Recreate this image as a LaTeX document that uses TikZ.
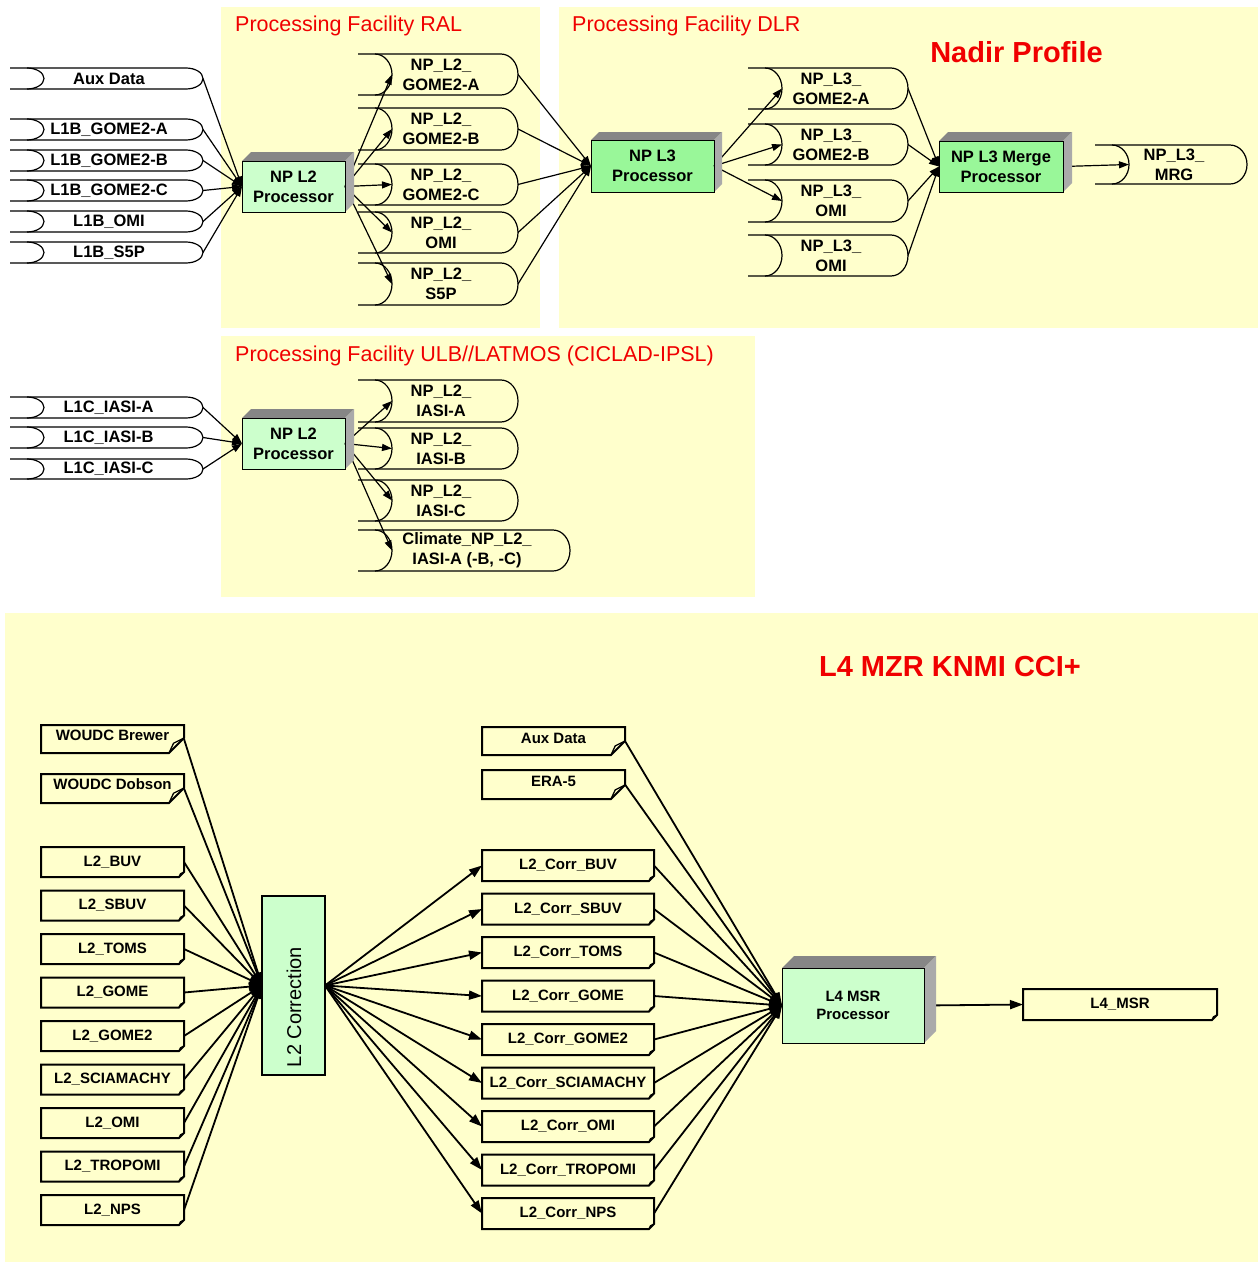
\documentclass[tikz,border=0pt]{standalone}
\usepackage{fontspec}
\setmainfont{Liberation Sans}
\usetikzlibrary{arrows.meta}

\definecolor{regionyellow}{HTML}{FFFFCC}
\definecolor{procpale}{HTML}{CCFFCC}
\definecolor{procbright}{HTML}{99F799}
\definecolor{facegray}{HTML}{868686}
\definecolor{sidegray}{HTML}{AAAAAA}
\definecolor{titlered}{HTML}{F00000}

\newcommand\fsTop{\fontsize{16.5}{20}\selectfont\bfseries}
\newcommand\fsLow{\fontsize{15}{18}\selectfont\bfseries}
\newcommand\fsTitle{\fontsize{21.5}{24}\selectfont}
\newcommand\fsHead{\fontsize{29}{32}\selectfont\bfseries}

\tikzset{
  region/.style={fill=regionyellow},
  titletext/.style={text=titlered, font=\fsTitle, inner sep=0pt, anchor=west},
  headtext/.style={text=titlered, font=\fsHead, inner sep=0pt},
  store/.style={line width=1.2pt, line join=round},
  storetext/.style={font=\fsTop, align=center, inner sep=0pt},
  proc/.style={draw=black, line width=0.8pt, inner sep=0pt, outer sep=0pt, align=center},
  conn/.style={line width=1.2pt, -{Triangle[length=10pt,width=7pt]}},
  connlow/.style={line width=1.8pt, -{Triangle[length=13pt,width=9pt]}},
  docnode/.style={inner sep=0pt, outer sep=0pt},
  docline/.style={line width=2pt, line join=miter},
  docflap/.style={line width=1.3pt},
  doctext/.style={font=\fsLow, inner sep=0pt},
}

% stored-data symbol: #1 name, #2 left end, #3 right peak, #4 top, #5 bottom, #6 text x, #7 text
\newcommand\dstore[7]{%
  \pgfmathsetmacro\dsMid{(#4+#5)/2}%
  \pgfmathsetmacro\dsHalf{(#5-#4)/2}%
  \pgfmathsetmacro\dsA{#2+17}%
  \pgfmathsetmacro\dsB{#3-17}%
  \draw[store] (#2,#4) -- (\dsB,#4)
     .. controls ({\dsB+0.552*17},#4) and (#3,{\dsMid-0.552*\dsHalf}) .. (#3,\dsMid)
     .. controls (#3,{\dsMid+0.552*\dsHalf}) and ({\dsB+0.552*17},#5) .. (\dsB,#5)
     -- (#2,#5);
  \draw[store] (\dsA,#4)
     .. controls ({\dsA+0.552*17},#4) and ({\dsA+17},{\dsMid-0.552*\dsHalf}) .. ({\dsA+17},\dsMid)
     .. controls ({\dsA+17},{\dsMid+0.552*\dsHalf}) and ({\dsA+0.552*17},#5) .. (\dsA,#5);
  \coordinate (#1-in) at ({\dsA+17},\dsMid);
  \coordinate (#1-out) at (#3,\dsMid);
  \node[storetext] (#1) at (#6,\dsMid) {#7};
}

% document box with folded lower right corner
% #1 name, #2 cx, #3 cy, #4 width, #5 height, #6 fold, #7 text raise, #8 text
\newcommand\docbox[8]{%
  \node[docnode, minimum width=#4pt, minimum height=#5pt] (#1) at (#2,#3) {};
  \pgfmathsetmacro\dbL{#2-#4/2}%
  \pgfmathsetmacro\dbR{#2+#4/2}%
  \pgfmathsetmacro\dbT{#3-#5/2}%
  \pgfmathsetmacro\dbB{#3+#5/2}%
  \draw[docline] (\dbL,\dbT) -- (\dbR,\dbT) -- (\dbR,{\dbB-#6}) -- ({\dbR-#6},\dbB) -- (\dbL,\dbB) -- cycle;
  \draw[docflap] (\dbR,{\dbB-#6}) -- ({\dbR-0.7*#6},{\dbB-0.65*#6}) -- ({\dbR-#6},\dbB);
  \node[doctext] (#1-label) at (#2,{#3-#7}) {#8};
}

% shaded top and side faces of a processor block
\newcommand\threed[2]{%
  \fill[facegray] (#1.north west) -- ++(#2,-#2) -- ([shift={(#2,-#2)}]#1.north east) -- (#1.north east) -- cycle;
  \fill[sidegray] (#1.north east) -- ++(#2,-#2) -- ([shift={(#2,-#2)}]#1.south east) -- (#1.south east) -- cycle;
  \draw[line width=0.8pt] (#1.north west) rectangle (#1.south east);
}

\begin{document}
\begin{tikzpicture}[x=1pt,y=-1pt]
\useasboundingbox (0,0) rectangle (1258,1264);
\fill[white] (0,0) rectangle (1258,1264);

% facility areas
\fill[region] (221,7) rectangle (540,328);
\fill[region] (559,7) rectangle (1258,328);
\fill[region] (221,336) rectangle (755,597);
\fill[region] (5,613) rectangle (1258,1262);

% headings
\node[titletext] (tRAL) at (235,26) {Processing Facility RAL};
\node[titletext] (tDLR) at (572,26) {Processing Facility DLR};
\node[headtext] (tNadir) at (1016.5,52) {Nadir Profile};
\node[titletext] (tULB) at (235,356) {Processing Facility ULB//LATMOS (CICLAD-IPSL)};
\node[headtext] (tL4) at (950,667) {L4 MZR KNMI CCI+};

% ---------- RAL ----------
\dstore{aux}{10}{203}{68}{89}{109}{Aux Data}
\dstore{gA}{10}{203}{119}{140}{109}{L1B\_GOME2-A}
\dstore{gB}{10}{203}{150}{171}{109}{L1B\_GOME2-B}
\dstore{gC}{10}{203}{180}{201}{109}{L1B\_GOME2-C}
\dstore{omi}{10}{203}{211}{232}{109}{L1B\_OMI}
\dstore{s5p}{10}{203}{242}{263}{109}{L1B\_S5P}

\node[proc, fill=procpale, font=\fsTop, minimum width=103pt, minimum height=51pt] (ral) at (293.5,186.5) {NP L2\\Processor};

\dstore{npA}{358}{518}{54}{95}{441}{NP\_L2\_\\GOME2-A}
\dstore{npB}{358}{518}{108}{150}{441}{NP\_L2\_\\GOME2-B}
\dstore{npC}{358}{518}{164}{205}{441}{NP\_L2\_\\GOME2-C}
\dstore{npO}{358}{518}{212}{253}{441}{NP\_L2\_\\OMI}
\dstore{npS}{358}{518}{263}{305}{441}{NP\_L2\_\\S5P}

% ---------- DLR ----------
\node[proc, fill=procbright, font=\fsTop, minimum width=123pt, minimum height=52pt] (l3) at (652.5,166) {NP L3\\Processor};

\dstore{l3A}{748}{908}{68}{109}{831}{NP\_L3\_\\GOME2-A}
\dstore{l3B}{748}{908}{124}{165}{831}{NP\_L3\_\\GOME2-B}
\dstore{l3O}{748}{908}{180}{222}{831}{NP\_L3\_\\OMI}
\dstore{l3P}{748}{908}{235}{276}{831}{NP\_L3\_\\OMI}

\node[proc, fill=procbright, font=\fsTop, minimum width=124pt, minimum height=51pt] (mrg) at (1001,166.5) {NP L3 Merge\\Processor};

\dstore{mrgout}{1095}{1247}{145}{184}{1174}{NP\_L3\_\\MRG}

% ---------- ULB ----------
\dstore{iA}{10}{203}{397}{418}{108.5}{L1C\_IASI-A}
\dstore{iB}{10}{203}{427}{448}{108.5}{L1C\_IASI-B}
\dstore{iC}{10}{203}{459}{479}{108.5}{L1C\_IASI-C}

\node[proc, fill=procpale, font=\fsTop, minimum width=103pt, minimum height=51pt] (ulb) at (293.5,443.5) {NP L2\\Processor};

\dstore{ulA}{358}{518}{380}{422}{441}{NP\_L2\_\\IASI-A}
\dstore{ulB}{358}{518}{428}{469}{441}{NP\_L2\_\\IASI-B}
\dstore{ulC}{358}{518}{480}{521}{441}{NP\_L2\_\\IASI-C}
\dstore{ulK}{358}{570}{530}{571}{467}{Climate\_NP\_L2\_\\IASI-A (-B, -C)}

% connectors, upper part
\foreach \s in {aux,gA,gB,gC,omi,s5p} \draw[conn] (\s-out) -- (ral.west);
\foreach \t in {npA,npB,npC,npO,npS} \draw[conn] (ral.east) -- (\t-in);
\foreach \s in {npA,npB,npC,npO,npS} \draw[conn] (\s-out) -- (l3.west);
\foreach \t in {l3A,l3B,l3O} \draw[conn] (l3.east) -- (\t-in);
\foreach \s in {l3A,l3B,l3O,l3P} \draw[conn] (\s-out) -- (mrg.west);
\draw[conn] (mrg.east) -- (mrgout-in);
\foreach \s in {iA,iB,iC} \draw[conn] (\s-out) -- (ulb.west);
\foreach \t in {ulA,ulB,ulC,ulK} \draw[conn] (ulb.east) -- (\t-in);

\threed{ral}{9}
\threed{l3}{8}
\threed{mrg}{9}
\threed{ulb}{9}

% ---------- L4 MZR KNMI ----------
\docbox{brew}{112.5}{739}{143}{28}{15}{4}{WOUDC Brewer}
\docbox{dobs}{112.5}{788.5}{143}{29}{15}{4}{WOUDC Dobson}
\docbox{buv}{112.5}{862}{143}{30}{5}{0}{L2\_BUV}
\docbox{sbuv}{112.5}{905.5}{143}{30}{5}{0}{L2\_SBUV}
\docbox{toms}{112.5}{949}{143}{30}{5}{0}{L2\_TOMS}
\docbox{gome}{112.5}{992.5}{143}{30}{5}{0}{L2\_GOME}
\docbox{gometwo}{112.5}{1036}{143}{30}{5}{0}{L2\_GOME2}
\docbox{scia}{112.5}{1079.5}{143}{30}{5}{0}{L2\_SCIAMACHY}
\docbox{lomi}{112.5}{1123}{143}{30}{5}{0}{L2\_OMI}
\docbox{trop}{112.5}{1166.5}{143}{30}{5}{0}{L2\_TROPOMI}
\docbox{nps}{112.5}{1210}{143}{30}{5}{0}{L2\_NPS}

\node[proc, line width=1.6pt, fill=procpale, minimum width=63pt, minimum height=179pt] (corr) at (293.5,985.5) {};
\node[rotate=90, font=\fontsize{20}{22}\selectfont, inner sep=0pt] (corr-label) at (294,1007) {L2 Correction};

\docbox{laux}{553.5}{741}{143}{28}{14}{3}{Aux Data}
\docbox{era}{553.5}{784.5}{143}{29}{14}{3}{ERA-5}

\docbox{cbuv}{568}{865.5}{172}{31}{5}{0}{L2\_Corr\_BUV}
\docbox{csbuv}{568}{909}{172}{31}{5}{0}{L2\_Corr\_SBUV}
\docbox{ctoms}{568}{952.5}{172}{31}{5}{0}{L2\_Corr\_TOMS}
\docbox{cgome}{568}{996}{172}{31}{5}{0}{L2\_Corr\_GOME}
\docbox{cgometwo}{568}{1039.5}{172}{31}{5}{0}{L2\_Corr\_GOME2}
\docbox{cscia}{568}{1083}{172}{31}{5}{0}{L2\_Corr\_SCIAMACHY}
\docbox{comi}{568}{1126.5}{172}{31}{5}{0}{L2\_Corr\_OMI}
\docbox{ctrop}{568}{1170}{172}{31}{5}{0}{L2\_Corr\_TROPOMI}
\docbox{cnps}{568}{1213.5}{172}{31}{5}{0}{L2\_Corr\_NPS}

\node[proc, fill=procpale, font=\fsLow, minimum width=142pt, minimum height=75pt] (msr) at (853,1005.5) {L4 MSR\\Processor};

\docbox{lfour}{1120}{1004.5}{194}{31}{5}{0}{L4\_MSR}

% connectors, lower part
\foreach \s in {brew,dobs,buv,sbuv,toms,gome,gometwo,scia,lomi,trop,nps}
  \draw[connlow] (\s.east) -- (corr.west);
\foreach \t in {cbuv,csbuv,ctoms,cgome,cgometwo,cscia,comi,ctrop,cnps}
  \draw[connlow] (corr.east) -- (\t.west);
\foreach \s in {laux,era,cbuv,csbuv,ctoms,cgome,cgometwo,cscia,comi,ctrop,cnps}
  \draw[connlow] (\s.east) -- (msr.west);
\draw[connlow] (msr.east) -- (lfour.west);

\threed{msr}{12}
\end{tikzpicture}
\end{document}
